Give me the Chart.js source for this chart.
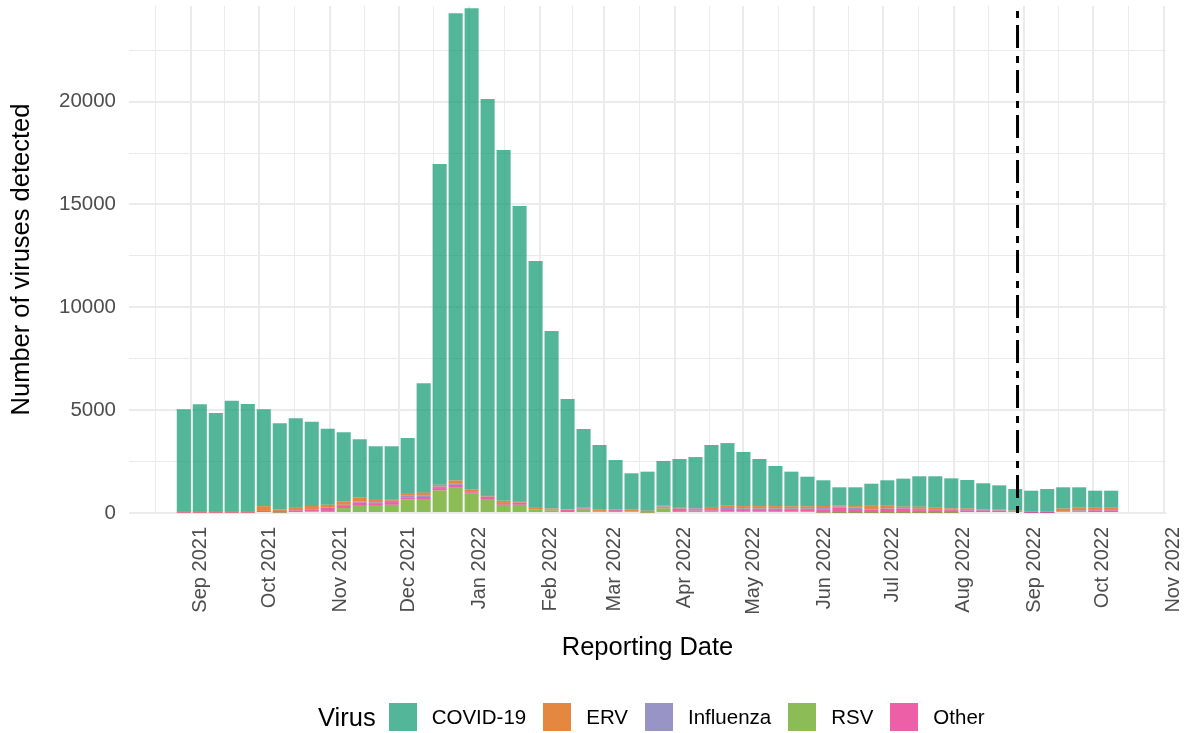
<!DOCTYPE html>
<html>
<head>
<meta charset="utf-8">
<script src="https://cdn.jsdelivr.net/npm/chart.js@4.4.1/dist/chart.umd.min.js"></script>
<style>
  body { margin: 0; background: #fff; font-family: "Liberation Sans", Arial, sans-serif; }
  #wrap { position: relative; width: 1185px; height: 733px; }
  #legend { position: absolute; left: 318px; top: 701px; height: 32px; display: flex; align-items: center; }
  #legend .ttl { font-size: 25.5px; margin-right: 13px; }
  #legend .sw { width: 28px; height: 28px; margin-right: 15px; }
  #legend .lb { font-size: 20.5px; margin-right: 17px; }
</style>
</head>
<body>
<div id="wrap">
  <canvas id="c" width="1185" height="733"></canvas>
  <div id="legend"></div>
</div>
<script>
// weekly reporting dates (one bar each)
const weeks = [
  '2021-08-29','2021-09-05','2021-09-12','2021-09-19','2021-09-26','2021-10-03','2021-10-10','2021-10-17',
  '2021-10-24','2021-10-31','2021-11-07','2021-11-14','2021-11-21','2021-11-28','2021-12-05','2021-12-12',
  '2021-12-19','2021-12-26','2022-01-02','2022-01-09','2022-01-16','2022-01-23','2022-01-30','2022-02-06',
  '2022-02-13','2022-02-20','2022-02-27','2022-03-06','2022-03-13','2022-03-20','2022-03-27','2022-04-03',
  '2022-04-10','2022-04-17','2022-04-24','2022-05-01','2022-05-08','2022-05-15','2022-05-22','2022-05-29',
  '2022-06-05','2022-06-12','2022-06-19','2022-06-26','2022-07-03','2022-07-10','2022-07-17','2022-07-24',
  '2022-07-31','2022-08-07','2022-08-14','2022-08-21','2022-08-28','2022-09-04','2022-09-11','2022-09-18',
  '2022-09-25','2022-10-02','2022-10-09'
];
const covid = [
  4940,5185,4760,5360,5200,4710,4180,4345,4100,3700,3365,2835,2565,2570,2675,5315,
  15600,22720,23415,19250,17060,14380,11990,8630,5355,3815,3125,2390,1755,1900,2150,2340,
  2480,3010,3045,2630,2290,1950,1685,1440,1250,875,915,1075,1210,1365,1480,1530,
  1460,1390,1265,1165,1045,995,1075,1035,990,805,805
];
const erv = [
  80,80,80,80,80,230,80,130,160,130,160,190,160,80,130,130,
  80,160,100,80,100,30,80,60,20,40,80,20,100,80,65,65,
  20,100,110,110,110,110,100,100,100,65,65,160,160,65,100,65,
  65,65,30,50,20,0,0,130,130,130,130
];
const influenza = [
  0,0,0,0,0,0,0,0,0,20,20,50,40,65,80,80,
  80,50,20,20,10,10,0,10,10,10,0,0,0,0,65,20,
  100,65,100,80,80,80,80,80,60,40,80,20,20,20,65,50,
  20,20,20,20,20,80,80,20,65,20,20
];
const rsv = [
  0,0,0,0,0,0,20,50,80,100,240,350,350,400,660,680,
  1100,1260,940,680,400,400,160,130,50,160,80,100,65,20,230,100,
  100,65,65,65,65,65,65,65,20,10,10,10,10,10,10,10,
  10,0,0,0,0,0,0,0,0,0,0
];
const other = [
  20,20,20,20,20,100,80,80,100,150,140,160,130,130,100,100,
  110,110,65,100,80,110,20,20,110,60,20,65,10,10,20,100,
  20,65,80,80,80,80,80,80,160,260,180,160,190,210,130,130,
  130,130,130,110,80,10,10,65,65,130,130
];

const monthTicks = ['2021-09-01','2021-10-01','2021-11-01','2021-12-01','2022-01-01','2022-02-01','2022-03-01',
  '2022-04-01','2022-05-01','2022-06-01','2022-07-01','2022-08-01','2022-09-01','2022-10-01','2022-11-01'];
const monthLabels = ['Sep 2021','Oct 2021','Nov 2021','Dec 2021','Jan 2022','Feb 2022','Mar 2022',
  'Apr 2022','May 2022','Jun 2022','Jul 2022','Aug 2022','Sep 2022','Oct 2022','Nov 2022'];
const xFrom = '2021-08-05', xTo = '2022-11-02';
const cutoffDate = '2022-08-29';
const yTicks = [0, 2500, 5000, 7500, 10000, 12500, 15000, 17500, 20000, 22500];
const yTop = 24650;

const FONT = "'Liberation Sans', Arial, sans-serif";
const day = s => Date.parse(s) / 864e5;
const majorDays = monthTicks.map(day);

const series = [
  // bottom of the stack first
  { label: 'RSV',       data: rsv,       color: 'rgba(102,166,30,0.75)' },
  { label: 'Other',     data: other,     color: 'rgba(231,41,138,0.75)' },
  { label: 'Influenza', data: influenza, color: 'rgba(117,112,179,0.75)' },
  { label: 'ERV',       data: erv,       color: 'rgba(217,95,2,0.75)' },
  { label: 'COVID-19',  data: covid,     color: 'rgba(27,158,119,0.75)' }
];

/* legend (ggplot style: title on the left) --------------------------- */
const legendOrder = ['COVID-19', 'ERV', 'Influenza', 'RSV', 'Other'];
const leg = document.getElementById('legend');
leg.innerHTML = '<span class="ttl">Virus</span>' + legendOrder.map(n => {
  const s = series.find(d => d.label === n);
  return `<span class="sw" style="background:${s.color}"></span><span class="lb">${n}</span>`;
}).join('');

/* dot-dash cut-off line ---------------------------------------------- */
const cutoffLine = {
  id: 'cutoff',
  afterDatasetsDraw(chart) {
    const { ctx, chartArea: a, scales: { x } } = chart;
    const px = x.getPixelForValue(day(cutoffDate));
    ctx.save();
    ctx.strokeStyle = '#000';
    ctx.lineWidth = 3;
    ctx.setLineDash([7, 7, 23, 8]);
    ctx.lineDashOffset = 40;
    ctx.beginPath();
    ctx.moveTo(px, a.top);
    ctx.lineTo(px, a.bottom);
    ctx.stroke();
    ctx.restore();
  }
};

const gridColor = c => '#EBEBEB';
const gridWidth = c => (c.tick && c.tick.minor) ? 1 : 2;

new Chart(document.getElementById('c'), {
  type: 'bar',
  data: {
    datasets: series.map(s => ({
      label: s.label,
      data: s.data.map((v, i) => ({ x: day(weeks[i]), y: v })),
      backgroundColor: s.color,
      borderWidth: 0,
      barPercentage: 1,
      categoryPercentage: 0.88
    }))
  },
  options: {
    responsive: false,
    animation: false,
    layout: { padding: { left: 0, right: 19, top: 6, bottom: 63 } },
    plugins: { legend: { display: false }, tooltip: { enabled: false } },
    scales: {
      x: {
        type: 'linear',
        stacked: true,
        offset: false,
        min: day(xFrom),
        max: day(xTo),
        afterBuildTicks: s => {
          const maj = [day('2021-08-01'), ...majorDays];
          const t = [];
          maj.forEach((v, i) => {
            t.push({ value: v });
            if (i < maj.length - 1) t.push({ value: (v + maj[i + 1]) / 2, minor: true });
          });
          s.ticks = t.filter(k => k.value >= s.min && k.value <= s.max);
        },
        afterFit: s => { s.height = 157; s.paddingLeft = 0; s.paddingRight = 0; },
        border: { display: false },
        grid: { offset: false, color: gridColor, lineWidth: gridWidth, drawTicks: false },
        ticks: {
          autoSkip: false,
          minRotation: 90,
          maxRotation: 90,
          padding: 14,
          labelOffset: 10,
          color: '#4D4D4D',
          font: { family: FONT, size: 20 },
          callback: v => {
            const i = majorDays.indexOf(v);
            return i >= 0 ? monthLabels[i] : '';
          }
        },
        title: {
          display: true, text: 'Reporting Date', color: '#000',
          font: { family: FONT, size: 25.5 }, padding: { top: 0, bottom: 6.7 }
        }
      },
      y: {
        stacked: true,
        min: 0,
        max: yTop,
        afterBuildTicks: s => { s.ticks = yTicks.map(v => ({ value: v, minor: v % 5000 !== 0 })); },
        afterFit: s => { s.width = 129; s.paddingTop = 0; s.paddingBottom = 0; },
        border: { display: false },
        grid: { color: gridColor, lineWidth: gridWidth, drawTicks: false },
        ticks: {
          autoSkip: false,
          padding: 13,
          color: '#4D4D4D',
          font: { family: FONT, size: 20.5 },
          callback: v => (v % 5000 === 0 ? String(v) : '')
        },
        title: {
          display: true, text: 'Number of viruses detected', color: '#000',
          font: { family: FONT, size: 25.5 }, padding: { top: 6.7, bottom: 0 }
        }
      }
    }
  },
  plugins: [cutoffLine]
});
</script>
</body>
</html>
